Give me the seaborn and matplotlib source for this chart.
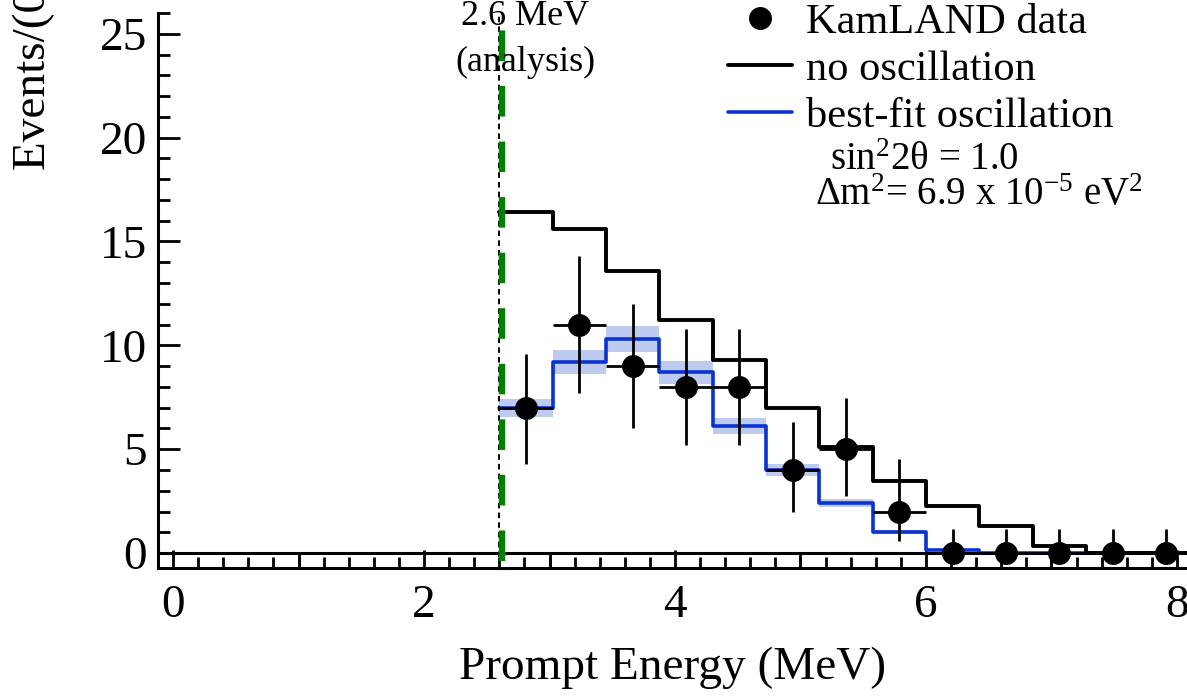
import numpy as np
import pandas as pd
import seaborn as sns
import matplotlib.pyplot as plt
from matplotlib.lines import Line2D
from matplotlib.ticker import MultipleLocator, FixedLocator

# bin edges of the prompt energy spectrum (MeV)
edges = [2.6, 3.025, 3.45, 3.875, 4.3, 4.725, 5.15, 5.575, 6.0, 6.425, 6.85, 7.275, 7.7, 8.125]
# expected events, no oscillation
no_osc = [16.4, 15.6, 13.6, 11.2, 9.3, 7.0, 5.1, 3.45, 2.25, 1.3, 0.35, 0.0, 0.0]
# expected events, best-fit oscillation
best_fit = [7.0, 9.2, 10.3, 8.7, 6.1, 4.0, 2.4, 1.0, 0.15, 0.0, 0.0, 0.0, 0.0]
best_fit_err = [0.43, 0.56, 0.64, 0.56, 0.38, 0.27, 0.2, 0.1, 0.05, 0.0, 0.0, 0.0, 0.0]
# KamLAND observed events
data_counts = [7, 11, 9, 8, 8, 4, 5, 2, 0, 0, 0, 0, 0]
err_up = [2.6, 3.3, 3.0, 2.8, 2.8, 2.3, 2.45, 2.55, 1.15, 1.15, 1.15, 1.15, 1.15]
err_dn = [2.7, 3.3, 3.0, 2.8, 2.8, 2.0, 2.25, 1.4, 0.0, 0.0, 0.0, 0.0, 0.0]
threshold = 2.6

sns.set_theme(style="ticks")
plt.rcParams['font.family'] = ['Liberation Serif', 'DejaVu Serif']
plt.rcParams['mathtext.fontset'] = 'custom'
plt.rcParams['mathtext.rm'] = 'Liberation Serif'
plt.rcParams['mathtext.it'] = 'Liberation Serif:italic'
plt.rcParams['lines.scale_dashes'] = False
for k in ['text.color', 'axes.labelcolor', 'xtick.color', 'ytick.color', 'axes.edgecolor']:
    plt.rcParams[k] = 'black'

W, H = 1187, 697
fig = plt.figure(figsize=(W / 100, H / 100), dpi=100)
ax = fig.add_axes([158 / W, 129 / H, 1 - 158 / W, (568 - 13) / H])

edge_arr = np.array(edges)
centers = (edge_arr[:-1] + edge_arr[1:]) / 2
half_w = np.diff(edge_arr) / 2
df = pd.DataFrame({'energy': centers, 'no_osc': no_osc, 'best_fit': best_fit})

blue = '#0a32d0'
band = '#bccbef'

# uncertainty band of the best fit
lo = np.array(best_fit) - np.array(best_fit_err)
hi = np.array(best_fit) + np.array(best_fit_err)
ax.fill_between(edge_arr, np.append(lo, lo[-1]), np.append(hi, hi[-1]), step='post',
                color=band, lw=0, zorder=1)

ax.axhline(0, color='black', lw=2.2, zorder=2)

sns.histplot(data=df, x='energy', weights='best_fit', bins=edges, element='step',
             fill=False, color=blue, linewidth=2.6, ax=ax, zorder=3)
sns.histplot(data=df, x='energy', weights='no_osc', bins=edges, element='step',
             fill=False, color='black', linewidth=2.8, ax=ax, zorder=4)

ax.errorbar(centers, data_counts, yerr=[err_dn, err_up], xerr=half_w, fmt='o',
            color='black', ms=15.5, elinewidth=2, capsize=0, zorder=5)

# analysis threshold
ax.vlines(threshold, -0.2, 26, colors='black', lw=1.4, linestyles=(0, (4, 3)), zorder=6)
ax.vlines(threshold + 0.025, -0.4, 25.4, colors='#008000', lw=4.6,
          linestyles=(0, (22, 18)), zorder=6)

ax.set_xlim(-0.12, 8.08)
ax.set_ylim(-0.72, 26.0)
ax.xaxis.set_major_locator(MultipleLocator(2))
ax.xaxis.set_minor_locator(MultipleLocator(0.2))
ax.yaxis.set_major_locator(MultipleLocator(5))
ax.yaxis.set_minor_locator(MultipleLocator(1))
ax.tick_params(axis='both', which='both', direction='in', colors='black', width=2,
               labelsize=34)
ax.tick_params(axis='x', which='major', length=13, pad=12)
ax.tick_params(axis='x', which='minor', length=8)
ax.tick_params(axis='y', which='major', length=16, pad=8)
ax.tick_params(axis='y', which='minor', length=8.5)
for s in ['top', 'right']:
    ax.spines[s].set_visible(False)
for s in ['left', 'bottom']:
    ax.spines[s].set_linewidth(2.2)
    ax.spines[s].set_color('black')

# slightly longer ticks at the odd integers
sec = ax.secondary_xaxis('bottom')
sec.xaxis.set_major_locator(FixedLocator([1, 3, 5, 7]))
sec.tick_params(direction='in', length=11, width=2, labelbottom=False, colors='black')
sec.spines['bottom'].set_visible(False)

ax.set_xlabel('Prompt Energy (MeV)', fontsize=34, labelpad=14)
ax.set_ylabel('')
fig.text(34 / W, 1 - 170 / H, 'Events/(0.425 MeV)', rotation=90, ha='center', va='bottom',
         fontsize=34)

fig.text(525 / W, 1 - 25 / H, '2.6 MeV', ha='center', va='baseline', fontsize=26)
fig.text(525 / W, 1 - 62 / H, '(analysis)', ha='center', va='center', fontsize=26)

handles = [
    Line2D([], [], ls='none', marker='o', color='black', ms=15.5),
    Line2D([], [], color='black', lw=2.8),
    Line2D([], [], color=blue, lw=2.6),
]
labels = ['KamLAND data', 'no oscillation', 'best-fit oscillation']
ax.legend(handles, labels, loc='upper left', bbox_to_anchor=(728 / W, 1 - 3 / H),
          bbox_transform=fig.transFigure, frameon=False, fontsize=30.5,
          handlelength=1.5, handletextpad=0.35, labelspacing=0.2,
          borderpad=0, borderaxespad=0)

fig.text(830 / W, 1 - 160 / H, r'sin$^2$2θ = 1.0', ha='left', va='center', fontsize=28)
fig.text(815 / W, 1 - 196 / H, r'Δm$^2$= 6.9 x 10$^{-5}$ eV$^2$', ha='left', va='center',
         fontsize=28)

fig.savefig('out.png', dpi=100)
